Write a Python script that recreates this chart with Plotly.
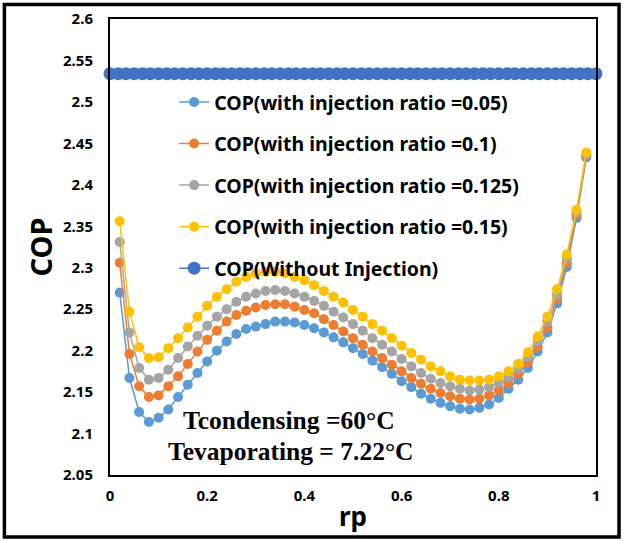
import plotly.graph_objects as go

# ---------------- data ----------------
rp = [0.02, 0.04, 0.06, 0.08, 0.10, 0.12, 0.14, 0.16, 0.18, 0.20,
      0.22, 0.24, 0.26, 0.28, 0.30, 0.32, 0.34, 0.36, 0.38, 0.40,
      0.42, 0.44, 0.46, 0.48, 0.50, 0.52, 0.54, 0.56, 0.58, 0.60,
      0.62, 0.64, 0.66, 0.68, 0.70, 0.72, 0.74, 0.76, 0.78, 0.80,
      0.82, 0.84, 0.86, 0.88, 0.90, 0.92, 0.94, 0.96, 0.98]

cop_ratio_005 = [2.270, 2.167, 2.126, 2.114, 2.119, 2.129, 2.144, 2.159, 2.173, 2.187,
                 2.200, 2.211, 2.220, 2.226, 2.229, 2.232, 2.235, 2.235, 2.234, 2.231,
                 2.227, 2.222, 2.216, 2.210, 2.203, 2.196, 2.188, 2.180, 2.172, 2.163,
                 2.156, 2.148, 2.142, 2.137, 2.133, 2.130, 2.129, 2.131, 2.135, 2.143,
                 2.154, 2.165, 2.179, 2.199, 2.222, 2.257, 2.301, 2.360, 2.433]

cop_ratio_01 = [2.306, 2.196, 2.157, 2.144, 2.146, 2.157, 2.169, 2.184, 2.199, 2.213,
                2.224, 2.235, 2.243, 2.248, 2.252, 2.255, 2.256, 2.256, 2.253, 2.249,
                2.245, 2.238, 2.231, 2.223, 2.215, 2.207, 2.199, 2.191, 2.183, 2.175,
                2.167, 2.160, 2.154, 2.149, 2.145, 2.142, 2.141, 2.142, 2.146, 2.152,
                2.161, 2.172, 2.186, 2.205, 2.228, 2.263, 2.306, 2.364, 2.435]

cop_ratio_0125 = [2.331, 2.222, 2.179, 2.165, 2.167, 2.177, 2.191, 2.205, 2.218, 2.230,
                  2.241, 2.250, 2.259, 2.265, 2.269, 2.272, 2.273, 2.272, 2.269, 2.265,
                  2.260, 2.254, 2.247, 2.240, 2.232, 2.224, 2.215, 2.207, 2.199, 2.190,
                  2.181, 2.173, 2.166, 2.161, 2.157, 2.154, 2.152, 2.153, 2.156, 2.161,
                  2.168, 2.178, 2.192, 2.211, 2.235, 2.268, 2.311, 2.367, 2.437]

cop_ratio_015 = [2.356, 2.247, 2.204, 2.191, 2.192, 2.203, 2.215, 2.228, 2.241, 2.254,
                 2.265, 2.274, 2.283, 2.289, 2.293, 2.295, 2.295, 2.293, 2.289, 2.285,
                 2.279, 2.272, 2.265, 2.258, 2.249, 2.241, 2.232, 2.224, 2.215, 2.206,
                 2.197, 2.189, 2.181, 2.175, 2.169, 2.165, 2.164, 2.164, 2.165, 2.169,
                 2.175, 2.184, 2.198, 2.217, 2.241, 2.274, 2.316, 2.370, 2.439]

rp_no_injection = [0, 0.017, 0.033, 0.05, 0.067, 0.083, 0.1, 0.117, 0.133, 0.15,
                   0.167, 0.183, 0.2, 0.217, 0.233, 0.25, 0.267, 0.283, 0.3, 0.317,
                   0.333, 0.35, 0.367, 0.383, 0.4, 0.417, 0.433, 0.45, 0.467, 0.483,
                   0.5, 0.517, 0.533, 0.55, 0.567, 0.583, 0.6, 0.617, 0.633, 0.65,
                   0.667, 0.683, 0.7, 0.717, 0.733, 0.75, 0.767, 0.783, 0.8, 0.817,
                   0.833, 0.85, 0.867, 0.883, 0.9, 0.917, 0.933, 0.95, 0.967, 0.983, 1]
cop_no_injection = [2.534, 2.534, 2.534, 2.534, 2.534, 2.534, 2.534, 2.534, 2.534, 2.534,
                    2.534, 2.534, 2.534, 2.534, 2.534, 2.534, 2.534, 2.534, 2.534, 2.534,
                    2.534, 2.534, 2.534, 2.534, 2.534, 2.534, 2.534, 2.534, 2.534, 2.534,
                    2.534, 2.534, 2.534, 2.534, 2.534, 2.534, 2.534, 2.534, 2.534, 2.534,
                    2.534, 2.534, 2.534, 2.534, 2.534, 2.534, 2.534, 2.534, 2.534, 2.534,
                    2.534, 2.534, 2.534, 2.534, 2.534, 2.534, 2.534, 2.534, 2.534, 2.534,
                    2.534]

series_names = ["COP(with injection ratio =0.05)",
                "COP(with injection ratio =0.1)",
                "COP(with injection ratio =0.125)",
                "COP(with injection ratio =0.15)",
                "COP(Without Injection)"]

x_tickvals = [0, 0.2, 0.4, 0.6, 0.8, 1]
x_ticktext = ["0", "0.2", "0.4", "0.6", "0.8", "1"]
y_tickvals = [2.05, 2.1, 2.15, 2.2, 2.25, 2.3, 2.35, 2.4, 2.45, 2.5, 2.55, 2.6]
y_ticktext = ["2.05", "2.1", "2.15", "2.2", "2.25", "2.3", "2.35", "2.4", "2.45", "2.5", "2.55", "2.6"]

# ---------------- styles ----------------
colors = ["#5B9BD5", "#ED7D31", "#A5A5A5", "#FFC000", "#4472C4"]
TICK_FONT = dict(family="Noto Sans", size=15, color="black", weight="bold")

fig = go.Figure()
curves = [cop_ratio_005, cop_ratio_01, cop_ratio_0125, cop_ratio_015]
for i, ys in enumerate(curves):
    fig.add_trace(go.Scatter(
        x=rp, y=ys, mode="lines+markers", name=series_names[i],
        legendgroup=f"g{i}",
        line=dict(color=colors[i], width=1.5),
        marker=dict(color=colors[i], size=10, line=dict(width=0)),
    ))

fig.add_trace(go.Scatter(
    x=rp_no_injection, y=cop_no_injection, mode="lines+markers", name=series_names[4],
    legendgroup="g4", cliponaxis=False,
    line=dict(color=colors[4], width=1.5),
    marker=dict(color=colors[4], size=13, line=dict(width=0)),
))

fig.update_layout(
    width=624, height=541,
    margin=dict(l=110, r=28, t=19, b=66, autoexpand=False),
    paper_bgcolor="white", plot_bgcolor="white",
    showlegend=True,
    legend=dict(
        x=0.132, y=0.86, xanchor="left", yanchor="top",
        bgcolor="rgba(0,0,0,0)",
        font=dict(family="Noto Sans", size=19.5, color="black", weight="bold"),
        traceorder="grouped", tracegroupgap=13.2,
        itemwidth=30,
    ),
    xaxis=dict(
        range=[0, 1], tickvals=x_tickvals, ticktext=x_ticktext,
        showgrid=False, zeroline=False,
        showline=True, mirror=True, linecolor="black", linewidth=2,
        ticks="", ticklabelstandoff=6, tickfont=TICK_FONT,
        title=dict(text="rp", font=dict(family="Noto Sans", size=26, color="black", weight="bold"),
                   standoff=4),
        automargin=False,
    ),
    yaxis=dict(
        range=[2.05, 2.6], tickvals=y_tickvals, ticktext=y_ticktext,
        showgrid=False, zeroline=False,
        showline=True, mirror=True, linecolor="black", linewidth=2,
        ticks="", ticklabelstandoff=12, tickfont=TICK_FONT,
        title=dict(text="COP", font=dict(family="Noto Sans", size=29, color="black", weight="bold"),
                   standoff=2),
        automargin=False,
    ),
    annotations=[
        dict(text="<b>Tcondensing =60°C</b>", xref="paper", yref="paper",
             x=(289 - 110.5) / 485.5, y=1 - (421 - 19.5) / 455.5, showarrow=False,
             xanchor="center", yanchor="middle",
             font=dict(family="Liberation Serif", size=25.5, color="black")),
        dict(text="<b>Tevaporating = 7.22°C</b>", xref="paper", yref="paper",
             x=(291 - 110.5) / 485.5, y=1 - (452 - 19.5) / 455.5, showarrow=False,
             xanchor="center", yanchor="middle",
             font=dict(family="Liberation Serif", size=25.5, color="black")),
    ],
    shapes=[
        dict(type="rect", xref="paper", yref="paper",
             x0=(5 - 110.5) / 485.5, x1=(619 - 110.5) / 485.5,
             y0=1 - (537 - 19.5) / 455.5, y1=1 - (5 - 19.5) / 455.5,
             line=dict(color="black", width=3.5), fillcolor="rgba(0,0,0,0)", layer="below"),
    ],
)

fig.write_html("out.html", config={"displayModeBar": False},
               post_script="document.body.style.margin='0';document.body.style.overflow='hidden';")
